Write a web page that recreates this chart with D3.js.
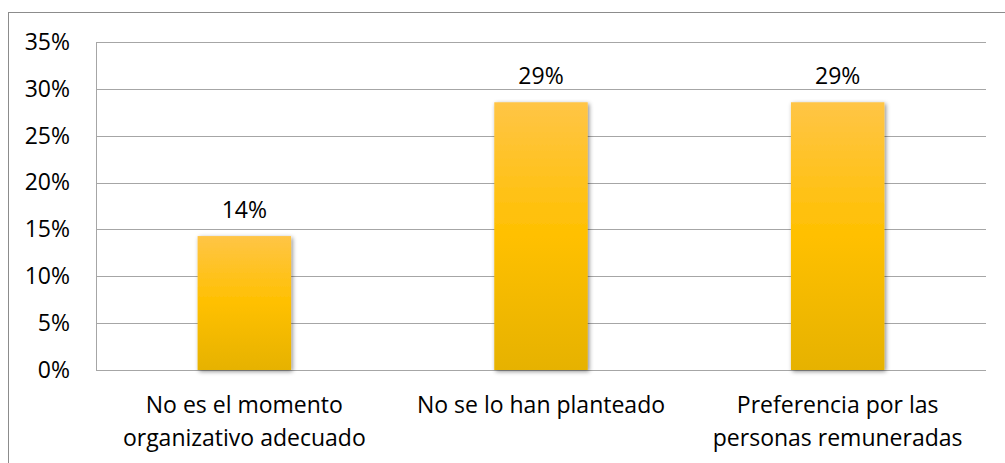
<!DOCTYPE html>
<html>
<head>
<meta charset="utf-8">
<script src="https://cdn.jsdelivr.net/npm/d3@7"></script>
<style>
  html, body { margin: 0; padding: 0; background: #fff; }
  svg { display: block; }
  text { font-family: "Open Sans", "Liberation Sans", sans-serif; fill: #000; }
</style>
</head>
<body>
<svg id="chart" width="1005" height="463"></svg>
<script>
// Reasons given, share of respondents
const categories = [
  ["No es el momento", "organizativo adecuado"],
  ["No se lo han planteado"],
  ["Preferencia por las", "personas remuneradas"]
];
const values = [0.1429, 0.2857, 0.2857];
const yTicks = [0, 0.05, 0.10, 0.15, 0.20, 0.25, 0.30, 0.35];

const W = 1005, H = 463;
const margin = { left: 96, right: 19, top: 42, bottom: 93 };
const svg = d3.select("#chart");

svg.append("rect").attr("width", W).attr("height", H).attr("fill", "#fff");

// outer chart frame
svg.append("rect")
  .attr("x", 8.5).attr("y", 12.5)
  .attr("width", W + 10).attr("height", H + 10)
  .attr("fill", "none").attr("stroke", "#8c8c8c").attr("stroke-width", 1);

const defs = svg.append("defs");
const grad = defs.append("linearGradient")
  .attr("id", "barFill").attr("x1", 0).attr("y1", 0).attr("x2", 0).attr("y2", 1);
grad.append("stop").attr("offset", "0%").attr("stop-color", "#ffc546");
grad.append("stop").attr("offset", "50%").attr("stop-color", "#ffc000");
grad.append("stop").attr("offset", "100%").attr("stop-color", "#e6b200");

const shadow = defs.append("filter").attr("id", "barShadow")
  .attr("x", "-20%").attr("y", "-10%").attr("width", "140%").attr("height", "120%");
shadow.append("feDropShadow")
  .attr("dx", 1.5).attr("dy", 1.5).attr("stdDeviation", 2)
  .attr("flood-color", "#000").attr("flood-opacity", 0.45);

const x = d3.scaleBand()
  .domain(d3.range(categories.length))
  .range([margin.left, W - margin.right])
  .paddingInner(0.685)
  .paddingOuter(0.3425);

const y = d3.scaleLinear()
  .domain([0, 0.35])
  .range([H - margin.bottom, margin.top]);

// horizontal gridlines
svg.append("g")
  .selectAll("line")
  .data(yTicks)
  .join("line")
  .attr("x1", margin.left).attr("x2", W - margin.right)
  .attr("y1", d => Math.round(y(d)) + 0.5).attr("y2", d => Math.round(y(d)) + 0.5)
  .attr("stroke", "#a6a6a6").attr("stroke-width", 1);

// value axis line
svg.append("line")
  .attr("x1", margin.left + 0.5).attr("x2", margin.left + 0.5)
  .attr("y1", y(0.35)).attr("y2", y(0) + 0.5)
  .attr("stroke", "#a6a6a6");

// value axis labels
const yAxis = d3.axisLeft(y)
  .tickValues(yTicks)
  .tickFormat(d3.format(".0%"))
  .tickSize(0)
  .tickPadding(26);
const yg = svg.append("g")
  .attr("transform", `translate(${margin.left},0)`)
  .call(yAxis);
yg.select(".domain").remove();
yg.selectAll("text")
  .style("font-family", '"Open Sans", "Liberation Sans", sans-serif')
  .attr("font-size", 23).attr("fill", "#000");

// bars
svg.append("g")
  .selectAll("rect")
  .data(values)
  .join("rect")
  .attr("x", (d, i) => x(i))
  .attr("width", x.bandwidth())
  .attr("y", d => y(d))
  .attr("height", d => y(0) - y(d))
  .attr("fill", "url(#barFill)")
  .attr("filter", "url(#barShadow)");

// data labels
svg.append("g")
  .selectAll("text")
  .data(values)
  .join("text")
  .attr("x", (d, i) => x(i) + x.bandwidth() / 2)
  .attr("y", d => y(d) - 18)
  .attr("text-anchor", "middle")
  .attr("font-size", 23)
  .text(d => d3.format(".0%")(d));

// category labels
const cat = svg.append("g")
  .selectAll("text")
  .data(categories)
  .join("text")
  .attr("text-anchor", "middle")
  .attr("font-size", 23);
cat.selectAll("tspan")
  .data((d, i) => d.map(line => ({ line, i })))
  .join("tspan")
  .attr("x", d => x(d.i) + x.bandwidth() / 2)
  .attr("y", (d, j) => 413 + j * 33)
  .text(d => d.line);
</script>
</body>
</html>
